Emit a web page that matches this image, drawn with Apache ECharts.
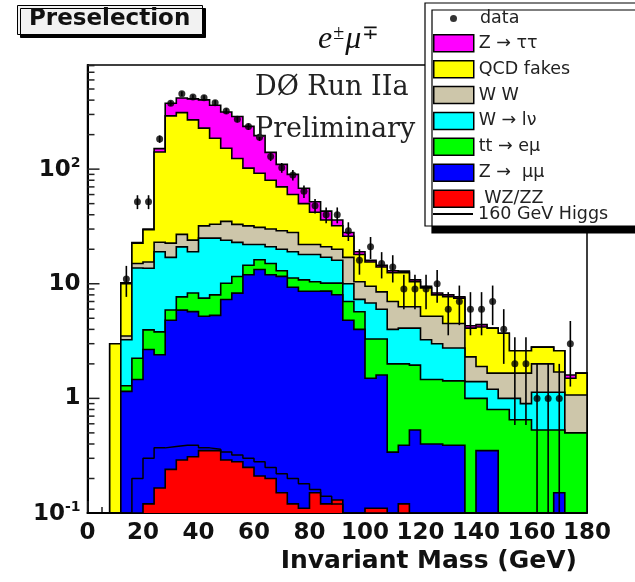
<!DOCTYPE html>
<html>
<head>
<meta charset="utf-8">
<script src="https://cdn.jsdelivr.net/npm/echarts@6/dist/echarts.min.js"></script>
<style>
  html, body { margin: 0; padding: 0; background: #fff; }
  #chart { width: 635px; height: 582px; }
</style>
</head>
<body>
<div id="chart"></div>
<script>
// Invariant-mass bins, 4 GeV wide
const binEdges = [0, 4, 8, 12, 16, 20, 24, 28, 32, 36, 40, 44, 48, 52, 56, 60, 64, 68, 72, 76, 80,
  84, 88, 92, 96, 100, 104, 108, 112, 116, 120, 124, 128, 132, 136, 140, 144, 148, 152, 156, 160,
  164, 168, 172, 176, 180];

// Observed events per bin
const dataCounts = [0, 0, 0, 11, 52, 52, 183, 376, 455, 425, 420, 380, 321, 272, 235, 190, 129, 103, 89, 64,
  48, 40, 40, 29, 16, 21, 15, 14, 9, 9, 9, 10, 6, 7, 6, 6, 7, 4, 2, 2,
  1, 1, 1, 3, 0];

// Expected events per bin for each process
const wzzz = [0, 0, 0, 0, 0, 0.12, 0.165, 0.24, 0.29, 0.31, 0.35, 0.35, 0.29, 0.28, 0.25, 0.21, 0.2, 0.15, 0.12, 0.11,
  0.15, 0.12, 0.13, 0, 0, 0.11, 0.11, 0, 0.12, 0, 0, 0, 0, 0, 0, 0, 0, 0, 0, 0,
  0, 0, 0, 0, 0];
const zmumu = [0, 0, 0, 1.15, 1.46, 2.55, 2.24, 4.56, 5.6, 5.4, 4.85, 4.95, 7.0, 8.0, 11.75, 13.1, 11.8, 11.45, 9.2, 8.5,
  8.45, 8.5, 7.9, 4.8, 4.0, 1.39, 1.49, 0.34, 0.27, 0.53, 0.4, 0.4, 0.39, 0.39, 0, 0.35, 0.35, 0, 0, 0,
  0, 0, 0.15, 0, 0];
const ttbar = [0, 0, 0, 0.14, 0.78, 1.29, 1.4, 1.1, 1.8, 2.6, 2.3, 2.7, 2.8, 3.3, 2.5, 2.9, 3.0, 1.4, 1.9, 2.2,
  1.8, 1.5, 2.1, 2.2, 1.7, 1.8, 1.7, 1.66, 1.61, 1.42, 1.06, 1.06, 1.03, 1.03, 1.0, 0.65, 0.45, 0.8, 0.65, 0.65,
  0.53, 0.53, 0.38, 0.5, 0.5];
const wlnu = [0, 0, 0, 1.96, 11.5, 9.7, 15.2, 11.1, 13.3, 10.7, 17.5, 17, 13.9, 11.4, 7.5, 5.8, 6, 7, 7.8, 7.2,
  7.6, 6.9, 5.9, 3, 1.6, 3.5, 2.7, 2, 2.1, 2.15, 1.79, 1.54, 1.33, 1.33, 0.4, 0.4, 0.4, 0.2, 0.35, 0.25,
  0.6, 0.6, 0.6, 0, 0];
const ww = [0, 0, 0, 0.25, 1.3, 1.8, 4, 5.6, 6, 5, 7, 8, 11, 10, 10, 9, 9, 9, 9, 4,
  4, 4, 4, 7, 3.1, 2.7, 2.5, 3, 2.2, 2.2, 1.95, 2.2, 1.75, 1.75, 0.9, 0.5, 0.46, 0.66, 0.66, 0.76,
  0.87, 0.87, 0.57, 0.57, 0.57];
const qcd = [0, 0, 3, 6.5, 7.6, 14.1, 118, 269, 284, 245, 196, 153, 117, 91, 70, 61, 50, 41, 32, 28,
  20, 15, 12, 9, 7.6, 6, 5.5, 5.5, 6.2, 4.1, 4, 2.8, 3.2, 3.0, 1.8, 2.3, 2.44, 2.04, 0.94, 0.94,
  0.8, 0.8, 0.9, 0.43, 0.59];
const ztautau = [0, 0, 0, 0.2, 0.2, 0.4, 10, 84, 107, 141, 174, 175, 163, 164, 134, 104, 60, 40, 30, 18,
  10, 7, 4, 2, 1, 0.5, 0.5, 0.5, 0.4, 0.4, 0.3, 0.3, 0.3, 0.2, 0.2, 0.2, 0, 0, 0, 0,
  0, 0, 0, 0.1, 0];
// 160 GeV Higgs signal expectation
const higgs = [0, 0, 0, 0, 0.2, 0.3, 0.37, 0.38, 0.39, 0.39, 0.37, 0.36, 0.34, 0.32, 0.3, 0.28, 0.25, 0.22, 0.2, 0.18,
  0.16, 0.14, 0.12, 0.1, 0, 0, 0, 0, 0, 0, 0, 0, 0, 0, 0, 0, 0, 0, 0, 0,
  0, 0, 0, 0, 0];

// Axis tick positions
const xTickLabels = [0, 20, 40, 60, 80, 100, 120, 140, 160, 180];
const yMajorTicks = [0.1, 1, 10, 100];
const yMinorTicks = [0.2, 0.3, 0.4, 0.5, 0.6, 0.7, 0.8, 0.9, 2, 3, 4, 5, 6, 7, 8, 9,
  20, 30, 40, 50, 60, 70, 80, 90, 200, 300, 400, 500, 600, 700, 800];

const Y_MIN = 0.1, Y_MAX = 810;
const nBins = binEdges.length - 1;
const FONT = 'DejaVu Sans';

// Stack, bottom to top
const layers = [
  { name: ' WZ/ZZ', values: wzzz, color: '#ff0000' },
  { name: 'Z \u2192  \u03bc\u03bc', values: zmumu, color: '#0000ff' },
  { name: 'tt \u2192 e\u03bc', values: ttbar, color: '#00ff00' },
  { name: 'W \u2192 l\u03bd', values: wlnu, color: '#00ffff' },
  { name: 'W W', values: ww, color: '#cdc6aa' },
  { name: 'QCD fakes', values: qcd, color: '#ffff00' },
  { name: 'Z \u2192 \u03c4\u03c4', values: ztautau, color: '#ff00ff' }
];

let running = new Array(nBins).fill(0);
layers.forEach(function (l) {
  running = running.map(function (v, i) { return v + l.values[i]; });
  l.cumulative = running.slice();
});

function clampY(v) { return Math.max(v, Y_MIN); }

// Each cumulative histogram is filled down to the axis floor as one staircase
// polygon and outlined; lower layers are painted over higher ones.
function stackSeries(layer, z) {
  const top = layer.cumulative;
  return {
    type: 'custom',
    name: layer.name,
    z: z,
    silent: true,
    itemStyle: { color: layer.color },
    data: top.map(function (v, i) { return [binEdges[i], binEdges[i + 1], clampY(v)]; }),
    encode: { x: [0, 1], y: 2 },
    renderItem: function (params, api) {
      if (params.dataIndex !== 0) return null;
      const pts = [api.coord([binEdges[0], Y_MIN])];
      for (let i = 0; i < nBins; i++) {
        const y = clampY(top[i]);
        pts.push(api.coord([binEdges[i], y]));
        pts.push(api.coord([binEdges[i + 1], y]));
      }
      pts.push(api.coord([binEdges[nBins], Y_MIN]));
      return { type: 'group', children: [
        { type: 'polygon', shape: { points: pts }, style: { fill: layer.color } },
        { type: 'polyline', shape: { points: pts }, style: { stroke: '#000', lineWidth: 1.6, fill: null } }
      ] };
    }
  };
}

const series = [];
// y-axis ticks (major and log minor), pointing into the frame
series.push({
  type: 'custom',
  z: 1,
  silent: true,
  data: yMajorTicks.map(function (v) { return [0, v, 1]; }).concat(yMinorTicks.map(function (v) { return [0, v, 0]; })),
  encode: { x: 0, y: 1 },
  renderItem: function (params, api) {
    const p = api.coord([0, api.value(1)]);
    const len = api.value(2) ? 12 : 7;
    return { type: 'line', shape: { x1: p[0], y1: p[1], x2: p[0] + len, y2: p[1] },
      style: { stroke: '#222', lineWidth: 1.5 } };
  }
});

for (let k = layers.length - 1, z = 3; k >= 0; k--, z++) {
  series.push(stackSeries(layers[k], z));
}

// Signal histogram drawn as an outline
series.push({
  type: 'line',
  name: '160 GeV Higgs',
  z: 11,
  step: 'end',
  symbol: 'none',
  silent: true,
  lineStyle: { color: '#000', width: 1.5 },
  itemStyle: { color: '#000' },
  data: binEdges.map(function (e, i) { return [e, clampY(higgs[Math.min(i, nBins - 1)])]; })
});

// Poisson error bars on data
const dataPoints = [];
dataCounts.forEach(function (n, i) {
  if (n > 0) dataPoints.push([(binEdges[i] + binEdges[i + 1]) / 2, n]);
});
series.push({
  type: 'custom',
  z: 12,
  silent: true,
  data: dataPoints,
  encode: { x: 0, y: 1 },
  renderItem: function (params, api) {
    const x = api.value(0), n = api.value(1), e = Math.sqrt(n);
    const lo = api.coord([x, clampY(n - e)]);
    const hi = api.coord([x, n + e]);
    return { type: 'line', shape: { x1: lo[0], y1: lo[1], x2: hi[0], y2: hi[1] },
      style: { stroke: '#000', lineWidth: 1.6 } };
  }
});
series.push({
  type: 'scatter',
  name: 'data',
  z: 13,
  silent: true,
  symbol: 'circle',
  symbolSize: 7,
  itemStyle: { color: '#000' },
  data: dataPoints
});

const legendText = { fontFamily: FONT, fontSize: 17.5, color: '#222', lineHeight: 17 };

const option = {
  animation: false,
  backgroundColor: '#fff',
  grid: { left: 87.5, right: 48, top: 65, bottom: 69, show: true, borderColor: '#000', borderWidth: 1.5,
    backgroundColor: 'transparent', outerBoundsMode: 'none', containLabel: false },
  xAxis: {
    type: 'value', min: 0, max: 180, interval: 20,
    name: 'Invariant Mass (GeV)', nameLocation: 'end', nameGap: -10,
    nameTextStyle: { fontFamily: FONT, fontSize: 25, fontWeight: 'bold', color: '#111',
      align: 'right', verticalAlign: 'top', padding: [36, 0, 0, 0] },
    axisLine: { show: true, lineStyle: { color: '#000', width: 2 } },
    axisTick: { show: true, inside: true, length: 12, lineStyle: { color: '#222', width: 1.5 } },
    minorTick: { show: true, splitNumber: 4, length: 6, lineStyle: { color: '#222', width: 1.5 } },
    splitLine: { show: false },
    axisLabel: { fontFamily: FONT, fontSize: 23, fontWeight: 'bold', color: '#111', margin: 9,
      formatter: function (v) { return xTickLabels.indexOf(v) >= 0 ? String(v) : ''; } }
  },
  yAxis: {
    type: 'log', logBase: 10, min: Y_MIN, max: Y_MAX,
    axisLine: { show: true, lineStyle: { color: '#000', width: 2 } },
    axisTick: { show: false },
    splitLine: { show: false },
    axisLabel: {
      margin: 7, color: '#111',
      formatter: function (v) {
        const p = Math.round(Math.log10(v));
        if (Math.abs(Math.log10(v) - p) > 1e-6) return '';
        if (p === 0) return '{b|1}';
        if (p === 1) return '{b|10}';
        return '{b|10}{s|' + p + '}';
      },
      rich: {
        b: { fontFamily: FONT, fontSize: 23, fontWeight: 'bold', color: '#111', verticalAlign: 'bottom' },
        s: { fontFamily: FONT, fontSize: 14, fontWeight: 'bold', color: '#111', verticalAlign: 'bottom', padding: [0, 0, 11, 0] }
      }
    }
  },
  title: {
    text: 'Preselection', left: 17, top: 5,
    padding: [3, 12, 4, 12],
    backgroundColor: '#f2f2f2', borderColor: '#000', borderWidth: 1,
    shadowColor: '#000', shadowOffsetX: 3, shadowOffsetY: 3, shadowBlur: 0,
    textStyle: { fontFamily: FONT, fontSize: 23, fontWeight: 'bold', color: '#111' }
  },
  graphic: [
    { type: 'text', left: 318, top: 24, z: 30,
      style: {
        text: '{i|e}{s|\u00b1}{i|\u03bc}{s|\u2213}',
        rich: {
          i: { fontFamily: 'Liberation Serif', fontStyle: 'italic', fontSize: 32, fill: '#111', verticalAlign: 'bottom' },
          s: { fontFamily: 'Liberation Serif', fontSize: 20, fill: '#111', verticalAlign: 'bottom', padding: [0, 1, 12, 1] }
        }
      } },
    { type: 'text', left: 255, top: 74, z: 30,
      style: { text: 'D\u00d8 Run IIa', fontFamily: 'DejaVu Serif', fontSize: 27, fill: '#222' } },
    { type: 'text', left: 255, top: 116, z: 30,
      style: { text: 'Preliminary', fontFamily: 'DejaVu Serif', fontSize: 27, fill: '#222' } },
    { type: 'rect', z: 50, shape: { x: 425, y: 3, width: 230, height: 223 },
      style: { fill: '#fff', stroke: '#000', lineWidth: 1.2, shadowColor: '#000', shadowOffsetX: 7, shadowOffsetY: 7, shadowBlur: 0 } }
  ],
  legend: [
    { show: true, z: 60, left: 450, top: 9.5, orient: 'vertical', padding: 0,
      itemWidth: 7, itemHeight: 7, icon: 'circle',
      textStyle: Object.assign({ padding: [0, 0, 0, 18] }, legendText), data: ['data'] },
    { show: true, z: 60, left: 433, top: 34, orient: 'vertical', padding: 0,
      itemWidth: 40, itemHeight: 17, itemGap: 7.4, icon: 'rect',
      itemStyle: { borderColor: '#000', borderWidth: 1.5 },
      textStyle: legendText,
      data: layers.slice().reverse().map(function (l) { return l.name; }) },
    { show: true, z: 60, left: 433, top: 205, orient: 'vertical', padding: 0,
      itemWidth: 40, itemHeight: 2, icon: 'rect', itemStyle: { borderWidth: 0 },
      textStyle: legendText, data: ['160 GeV Higgs'] }
  ],
  series: series
};

const chart = echarts.init(document.getElementById('chart'), null, { renderer: 'canvas' });
chart.setOption(option);
</script>
</body>
</html>
